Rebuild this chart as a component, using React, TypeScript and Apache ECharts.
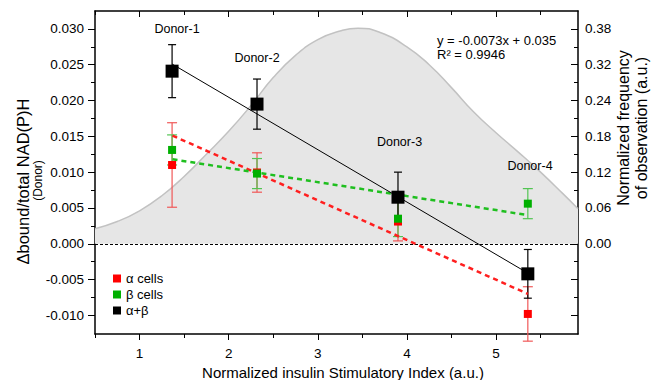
import React, { useEffect, useRef } from "react";
import * as echarts from "echarts";

// ---- data ----
const donorNames = ["Donor-1", "Donor-2", "Donor-3", "Donor-4"];
const donorX = [1.365, 2.318, 3.9, 5.357];

const alphaMean = [0.011, 0.00995, 0.0031, -0.0098];
const alphaErr = [0.0059, 0.00275, 0.0027, 0.0038];

const betaMean = [0.0131, 0.0098, 0.0035, 0.0056];
const betaErr = [0.0021, 0.0021, 0.0025, 0.0021];

const abMean = [0.0241, 0.0195, 0.0065, -0.0042];
const abErr = [0.0037, 0.0035, 0.0035, 0.0034];

// regression lines (end points)
const alphaFitX = [1.37, 5.357];
const alphaFitY = [0.0151, -0.007];
const betaFitX = [1.37, 5.357];
const betaFitY = [0.0118, 0.004];
const abFitX = [1.365, 5.357];
const abFitY = [0.0251, -0.0041];

// frequency distribution curve (in left-axis units)
const freqX = [0.5, 0.75, 1.0, 1.25, 1.5, 1.75, 2.0, 2.25, 2.5, 2.75, 3.0, 3.25, 3.45, 3.7, 4.0, 4.25, 4.5, 4.75, 5.0, 5.25, 5.5, 5.75, 5.92];
const freqY = [0.0021, 0.0031, 0.0046, 0.0067, 0.0094, 0.0125, 0.0157, 0.0193, 0.0232, 0.0263, 0.0285, 0.0297, 0.0301, 0.0295, 0.0275, 0.025, 0.0218, 0.0184, 0.0155, 0.0128, 0.01, 0.007, 0.0049];

const xMajor = [1, 2, 3, 4, 5];
const xMinor = [0.5, 1.5, 2.5, 3.5, 4.5, 5.5];
const yMajor = [-0.01, -0.005, 0, 0.005, 0.01, 0.015, 0.02, 0.025, 0.03];
const yMinor = [-0.0075, -0.0025, 0.0025, 0.0075, 0.0125, 0.0175, 0.0225, 0.0275];
const rightTickValues = [0, 0.005, 0.01, 0.015, 0.02, 0.025, 0.03];
const rightTickLabels = ["0.00", "0.06", "0.12", "0.18", "0.24", "0.32", "0.38"];

const FONT = "'Liberation Sans', Arial, Helvetica, sans-serif";
const X_MIN = 0.5, X_MAX = 5.92, Y_MIN = -0.0126, Y_MAX = 0.0325;

function errData(mean: number[], err: number[]) {
  return donorX.map((x, i) => [x, mean[i] - err[i], mean[i] + err[i]]);
}

function errSeries(name: string, mean: number[], err: number[], color: string, capW: number, z: number) {
  return {
    type: "custom",
    name: name + "-err",
    xAxisIndex: 0,
    yAxisIndex: 0,
    z,
    silent: true,
    clip: false,
    encode: { x: 0, y: [1, 2] },
    data: errData(mean, err),
    renderItem: (params: any, api: any) => {
      const x = api.value(0);
      const lo = api.value(1);
      const hi = api.value(2);
      const pH = api.coord([x, hi]);
      const pL = api.coord([x, lo]);
      const w = capW / 2;
      const st = { stroke: color, lineWidth: 1.2 };
      return {
        type: "group",
        children: [
          { type: "line", shape: { x1: pH[0], y1: pH[1], x2: pL[0], y2: pL[1] }, style: st },
          { type: "line", shape: { x1: pH[0] - w, y1: pH[1], x2: pH[0] + w, y2: pH[1] }, style: st },
          { type: "line", shape: { x1: pL[0] - w, y1: pL[1], x2: pL[0] + w, y2: pL[1] }, style: st },
        ],
      };
    },
  };
}

function xAxisDef(pos: "top" | "bottom", values: number[], len: number, inside: boolean, showLine: boolean, labels: boolean) {
  return {
    type: "value",
    position: pos,
    min: X_MIN,
    max: X_MAX,
    splitLine: { show: false },
    axisLine: { show: showLine, onZero: false, lineStyle: { color: "#000", width: 1.5 } },
    axisTick: { show: true, inside, length: len, customValues: values, lineStyle: { color: "#000", width: 1 } },
    axisLabel: labels
      ? { show: true, customValues: values, margin: 12, fontSize: 13.5, color: "#000", fontFamily: FONT, formatter: (v: number) => String(v) }
      : { show: false },
  };
}

function yAxisDef(pos: "left" | "right", values: number[], len: number, inside: boolean, showLine: boolean, label: any) {
  return {
    type: "value",
    position: pos,
    min: Y_MIN,
    max: Y_MAX,
    splitLine: { show: false },
    axisLine: { show: showLine, onZero: false, lineStyle: { color: "#000", width: 1.5 } },
    axisTick: { show: true, inside, length: len, customValues: values, lineStyle: { color: "#000", width: 1 } },
    axisLabel: label,
  };
}

function txt(x: number, y: number, text: string, fontSize: number, align: string, rotation = 0) {
  return {
    type: "text",
    x,
    y,
    z: 100,
    rotation,
    silent: true,
    style: { text, fontSize, fontFamily: FONT, fill: "#000", align, verticalAlign: "middle" },
  };
}

export default function App() {
  const ref = useRef<HTMLDivElement>(null);
  useEffect(() => {
    if (!ref.current) return;
    const chart = echarts.init(ref.current, null, { renderer: "svg" });

    const pts = (xs: number[], ys: number[]) => xs.map((x, i) => [x, ys[i]]);

    const option: any = {
      animation: false,
      backgroundColor: "#fff",
      textStyle: { fontFamily: FONT },
      grid: { left: 95, right: 74, top: 11, bottom: 46, containLabel: false },
      legend: {
        orient: "vertical",
        left: 113,
        top: 272,
        itemWidth: 8,
        itemHeight: 8,
        itemGap: 3,
        padding: 0,
        icon: "rect",
        textStyle: { fontSize: 13, color: "#000", fontFamily: FONT },
        data: ["α cells", "β cells", "α+β"],
      },
      xAxis: [
        xAxisDef("bottom", xMajor, 6, false, true, true),
        xAxisDef("bottom", xMinor, 4, false, false, false),
        xAxisDef("top", xMajor, 6, true, true, false),
        xAxisDef("top", xMinor, 4, true, false, false),
      ],
      yAxis: [
        yAxisDef("left", yMajor, 7, false, true, {
          show: true, customValues: yMajor, margin: 11, fontSize: 13.5, color: "#000", fontFamily: FONT,
          formatter: (v: number) => v.toFixed(3),
        }),
        yAxisDef("left", yMinor, 4, false, false, { show: false }),
        yAxisDef("right", yMajor, 7, true, true, {
          show: true, customValues: rightTickValues, margin: 7, fontSize: 13.5, color: "#000", fontFamily: FONT,
          formatter: (v: number) => rightTickLabels[Math.round(v / 0.005)] ?? "",
        }),
        yAxisDef("right", yMinor, 4, true, false, { show: false }),
      ],
      series: [
        {
          type: "line",
          name: "freq",
          xAxisIndex: 0,
          yAxisIndex: 0,
          z: 1,
          smooth: 0.5,
          symbol: "none",
          silent: true,
          data: pts(freqX, freqY),
          lineStyle: { color: "#c2c2c2", width: 1.5 },
          areaStyle: { color: "#e6e6e6", opacity: 1 },
          markLine: {
            silent: true,
            symbol: "none",
            label: { show: false },
            lineStyle: { color: "#000", width: 1, type: [3, 2] },
            data: [{ yAxis: 0 }],
          },
        },
        errSeries("α cells", alphaMean, alphaErr, "#f05858", 10, 3),
        errSeries("β cells", betaMean, betaErr, "#52c452", 10, 3),
        errSeries("α+β", abMean, abErr, "#000", 8, 4),
        {
          type: "line", name: "α fit", z: 5, symbol: "none", silent: true,
          data: pts(alphaFitX, alphaFitY),
          lineStyle: { color: "#ff1f1f", width: 2.5, type: [5, 4] },
        },
        {
          type: "line", name: "β fit", z: 5, symbol: "none", silent: true,
          data: pts(betaFitX, betaFitY),
          lineStyle: { color: "#1fbf1f", width: 2.5, type: [5, 4] },
        },
        {
          type: "line", name: "α+β fit", z: 5, symbol: "none", silent: true,
          data: pts(abFitX, abFitY),
          lineStyle: { color: "#000", width: 1 },
        },
        {
          type: "scatter", name: "α cells", z: 6, symbol: "rect", symbolSize: 8,
          itemStyle: { color: "#ff0000", opacity: 1 },
          data: pts(donorX, alphaMean),
        },
        {
          type: "scatter", name: "β cells", z: 6, symbol: "rect", symbolSize: 8,
          itemStyle: { color: "#00b000", opacity: 1 },
          data: pts(donorX, betaMean),
        },
        {
          type: "scatter", name: "α+β", z: 7, symbol: "rect", symbolSize: 13,
          itemStyle: { color: "#000", opacity: 1 },
          data: pts(donorX, abMean),
        },
      ],
      graphic: [
        txt(177, 29, donorNames[0], 12.5, "center"),
        txt(257, 58, donorNames[1], 12.5, "center"),
        txt(399.5, 142, donorNames[2], 12.5, "center"),
        txt(530, 166, donorNames[3], 12.5, "center"),
        txt(437, 40, "y = -0.0073x + 0.035", 13, "left"),
        txt(437, 54.5, "R² = 0.9946", 13, "left"),
        txt(22.5, 181.5, "Δbound/total NAD(P)H", 16.5, "center", Math.PI / 2),
        txt(37.5, 180.5, "(Donor)", 12, "center", Math.PI / 2),
        txt(623, 128, "Normalized frequency", 16, "center", Math.PI / 2),
        txt(641, 128, "of observation (a.u.)", 16, "center", Math.PI / 2),
        txt(343, 372, "Normalized insulin Stimulatory Index (a.u.)", 15, "center"),
      ],
    };
    chart.setOption(option);
    return () => chart.dispose();
  }, []);
  return <div ref={ref} style={{ position: "fixed", left: 0, top: 0, width: 652, height: 380 }} />;
}
